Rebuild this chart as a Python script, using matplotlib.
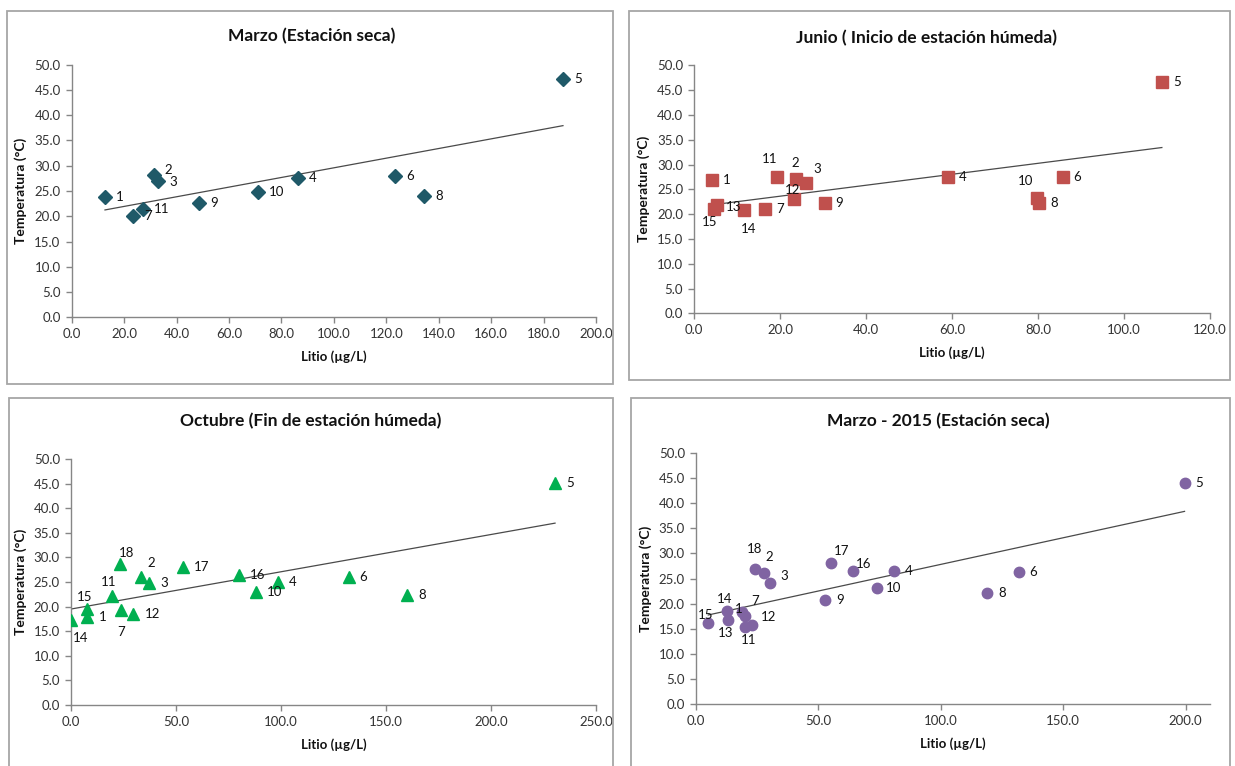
import numpy as np
import matplotlib
matplotlib.use("Agg")
import matplotlib.pyplot as plt
from matplotlib.patches import Rectangle

plt.rcParams["font.family"] = ["Lato", "DejaVu Sans"]

# ── Marzo (Estación seca) ────────────────────────────────────────────────────
mar_id = [1, 2, 3, 4, 5, 6, 7, 8, 9, 10, 11]
mar_li = [12.7, 31.5, 33.0, 86.4, 187.4, 123.3, 23.5, 134.4, 48.5, 71.0, 27.1]
mar_t = [23.9, 28.2, 27.0, 27.5, 47.1, 28.0, 20.1, 24.1, 22.6, 24.9, 21.4]

# ── Junio (Inicio de estación húmeda) ────────────────────────────────────────
jun_id = [1, 2, 3, 4, 5, 6, 7, 8, 9, 10, 11, 12, 13, 14, 15]
jun_li = [4.1, 23.6, 26.0, 59.1, 108.8, 85.7, 16.4, 80.2, 30.3, 79.8, 19.2, 23.3, 5.3, 11.5, 4.7]
jun_t = [26.9, 27.0, 26.3, 27.5, 46.7, 27.5, 21.0, 22.3, 22.3, 23.3, 27.5, 23.0, 21.8, 20.8, 21.0]

# ── Octubre (Fin de estación húmeda) ─────────────────────────────────────────
oct_id = [1, 2, 3, 4, 5, 6, 7, 8, 10, 11, 12, 14, 15, 16, 17, 18]
oct_li = [7.8, 33.5, 37.3, 98.7, 230.5, 132.2, 23.7, 160.0, 88.1, 19.7, 29.7, 0.0, 7.8, 80.1, 53.5, 23.5]
oct_t = [17.8, 26.1, 24.7, 24.9, 45.1, 26.0, 19.3, 22.4, 22.9, 22.2, 18.5, 17.3, 19.5, 26.4, 28.0, 28.7]

# ── Marzo - 2015 (Estación seca) ─────────────────────────────────────────────
m15_id = [1, 2, 3, 4, 5, 6, 7, 8, 9, 10, 11, 12, 13, 14, 15, 16, 17, 18]
m15_li = [18.8, 27.8, 30.2, 80.8, 199.6, 131.8, 19.9, 118.9, 52.9, 74.0, 20.0, 22.7, 13.1, 12.5, 5.0, 64.0, 55.1, 24.1]
m15_t = [18.3, 26.0, 24.2, 26.4, 44.1, 26.2, 17.6, 22.1, 20.7, 23.2, 15.3, 15.8, 16.7, 18.6, 16.2, 26.4, 28.1, 26.8]

TITLES = ["Marzo (Estación seca)", "Junio ( Inicio de estación húmeda)",
          "Octubre (Fin de estación húmeda)", "Marzo - 2015 (Estación seca)"]

# label offsets in pixels (dx, dy down, ha); default: to the right of the point
OFF_MAR = {2: (10, -5, "left"), 3: (11, 1, "left")}
OFF_JUN = {13: (9, 2, "left"), 15: (-5, 13, "center"), 14: (5, 19, "center"),
           11: (-7, -18, "center"), 2: (0, -16, "center"), 3: (11, -14, "center"),
           12: (-2, -9, "center"), 10: (-12, -17, "center")}
OFF_OCT = {14: (10, 18, "center"), 15: (-3, -12, "center"), 11: (-4, -14, "center"),
           18: (6, -11, "center"), 7: (0, 22, "center"), 2: (10, -14, "center")}
OFF_M15 = {15: (-3, -8, "center"), 14: (-2, -12, "center"), 13: (-2, 13, "center"),
           1: (-3, -3, "center"), 7: (10, -15, "center"), 11: (4, 13, "center"),
           12: (9, -8, "left"), 18: (0, -20, "center"), 2: (5, -16, "center"),
           3: (10, -7, "left"), 17: (11, -12, "center"), 16: (3, -7, "left"),
           10: (9, 0, "left")}

W, H = 1235, 766
AXIS_C = "#868686"
TEXT_C = "#333333"


def px_rect(x0, y0, x1, y1):
    """pixel box (top-left origin) -> figure fraction [l, b, w, h]"""
    return [x0 / W, 1 - y1 / H, (x1 - x0) / W, (y1 - y0) / H]


def draw_panel(fig, rect, frame, title, title_xy, ids, xs, ys, marker, color, ms,
               xmax, xstep, xlim, offsets):
    fx0, fy0, fx1, fy1 = frame
    fig.patches.append(Rectangle((fx0 / W, 1 - fy1 / H), (fx1 - fx0) / W, (fy1 - fy0) / H,
                                 transform=fig.transFigure, fill=False,
                                 edgecolor="#a6a6a6", lw=1.3))
    fig.text(title_xy[0] / W, 1 - title_xy[1] / H, title, ha="center", va="center",
             fontsize=12.5, fontweight="bold", color="#111111")

    ax = fig.add_axes(px_rect(*rect))
    ax.plot(xs, ys, linestyle="none", marker=marker, color=color, ms=ms, mec=color, zorder=3)

    k, b = np.polyfit(xs, ys, 1)
    xl = np.array([min(xs), max(xs)])
    ax.plot(xl, k * xl + b, color="#4a4a4a", lw=0.9, zorder=2)

    for i, x, y in zip(ids, xs, ys):
        dx, dy, ha = offsets.get(i, (11, 0, "left"))
        ax.annotate(str(i), (x, y), xytext=(dx, -dy), textcoords="offset pixels",
                    ha=ha, va="center", fontsize=9.5, color="#111111", zorder=4)

    ax.set_xlim(0, xlim)
    ax.set_ylim(0, 50)
    ax.set_xticks(np.arange(0, xmax + 0.1, xstep))
    ax.set_yticks(np.arange(0, 50.1, 5))
    ax.xaxis.set_major_formatter(lambda v, p: f"{v:.1f}")
    ax.yaxis.set_major_formatter(lambda v, p: f"{v:.1f}")
    for s in ["top", "right"]:
        ax.spines[s].set_visible(False)
    for s in ["left", "bottom"]:
        ax.spines[s].set_color(AXIS_C)
        ax.spines[s].set_linewidth(1.0)
    ax.tick_params(direction="out", length=4, width=1.0, color=AXIS_C,
                   labelsize=9.5, labelcolor=TEXT_C, pad=4)
    ax.set_xlabel("Litio (µg/L)", fontsize=9.5, fontweight="bold", color="#111111", labelpad=7)
    ax.set_ylabel("Temperatura (°C)", fontsize=10, fontweight="bold", color="#111111", labelpad=5)
    ax.patch.set_alpha(0)
    return ax


fig = plt.figure(figsize=(W / 100, H / 100), dpi=100)

draw_panel(fig, (71.7, 64.7, 596, 317.3), (7, 11, 613, 384), TITLES[0], (312, 36),
           mar_id, mar_li, mar_t, "D", "#1F5968", 7.5, 200, 20, 200, OFF_MAR)
draw_panel(fig, (694.3, 65.3, 1210, 313.3), (629, 11, 1230, 380), TITLES[1], (927, 38),
           jun_id, jun_li, jun_t, "s", "#C0504D", 8, 120, 20, 120, OFF_JUN)
draw_panel(fig, (71, 459, 596, 705), (9, 398, 613, 775), TITLES[2], (311, 421),
           oct_id, oct_li, oct_t, "^", "#00B050", 8, 250, 50, 250, OFF_OCT)
draw_panel(fig, (696, 453, 1210, 704), (631, 398, 1230, 775), TITLES[3], (938, 421),
           m15_id, m15_li, m15_t, "o", "#8064A2", 7.5, 200, 50, 210, OFF_M15)

fig.savefig("out.png", dpi=100, facecolor="white")
